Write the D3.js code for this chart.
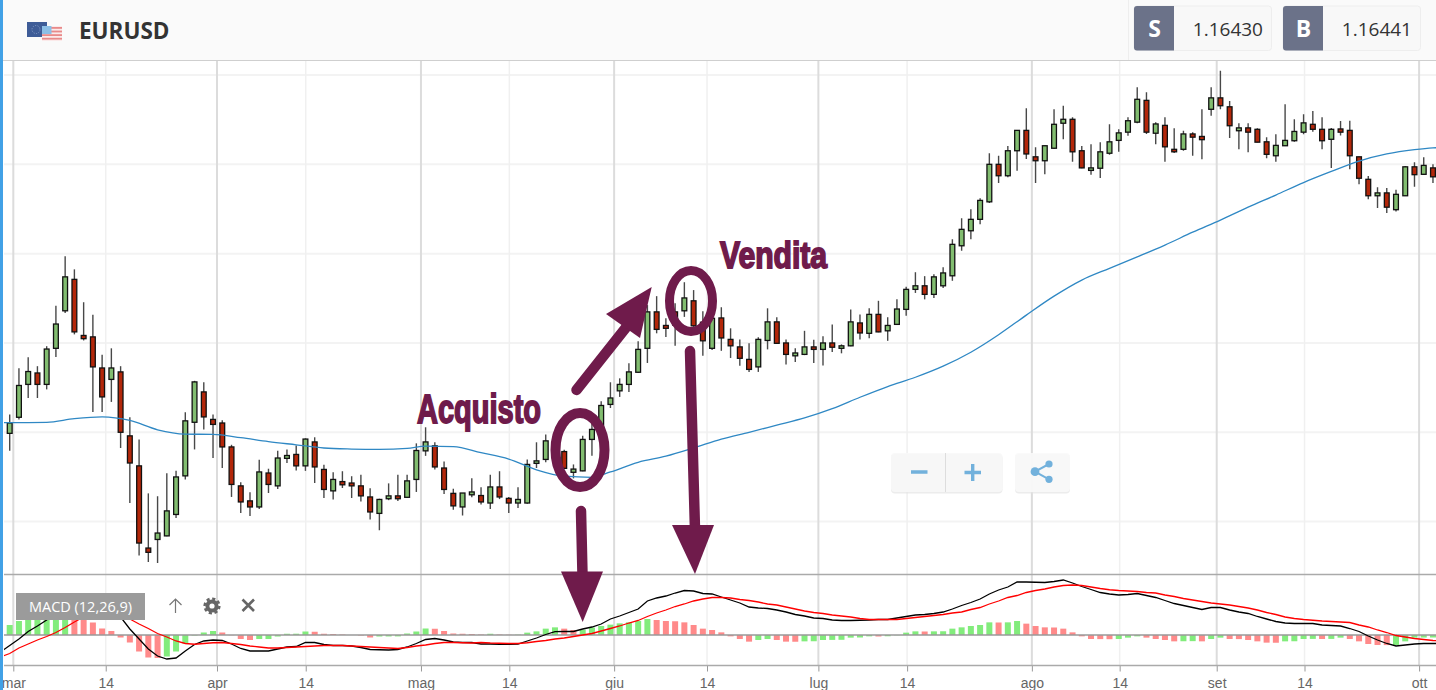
<!DOCTYPE html>
<html>
<head>
<meta charset="utf-8">
<script src="https://cdn.jsdelivr.net/npm/d3@7"></script>
<style>
  html, body { margin: 0; padding: 0; background: #fff; overflow: hidden; }
  svg { display: block; font-family: "Liberation Sans", Arial, sans-serif; }
</style>
</head>
<body>
<svg id="chart" width="1436" height="690"></svg>
<script>
// EURUSD daily, prices in 1/10000 (the price axis is hidden)
const opens = [10997,11042,11134,11166,11134,11235,11340,11428,11271,11267,11180,11148,11169,10990,10906,10676,10700,10710,10770,10878,11028,11113,11036,11026,10959,10850,10808,10791,10886,10850,10927,10938,10906,10973,10896,10836,10862,10858,10850,10819,10773,10814,10822,10818,10868,10948,10962,10900,10829,10791,10825,10823,10802,10847,10815,10802,10802,10913,10924,10936,10946,10888,10892,10980,11012,11078,11116,11134,11168,11235,11337,11299,11337,11340,11368,11308,11235,11320,11260,11239,11204,11183,11257,11309,11250,11214,11218,11239,11232,11250,11235,11242,11306,11277,11330,11284,11302,11344,11400,11410,11386,11410,11438,11522,11564,11596,11645,11750,11718,11788,11845,11771,11760,11795,11865,11876,11788,11733,11739,11781,11817,11840,11868,11929,11837,11859,11792,11792,11835,11828,11904,11936,11911,11844,11852,11848,11813,11774,11802,11816,11840,11862,11848,11820,11849,11845,11771,11708,11662,11670,11623,11662,11743,11722,11740];
const highs = [11050,11179,11210,11185,11241,11354,11493,11456,11364,11329,11217,11235,11185,11042,10980,10829,10821,10885,10892,11056,11144,11140,11050,11034,10965,10860,10832,10923,10898,10948,10952,10963,10983,10986,10909,10888,10891,10877,10881,10843,10814,10857,10881,10881,10969,11014,10972,10918,10842,10830,10871,10846,10881,10891,10819,10846,10924,10972,10994,10978,10951,10910,10990,11026,11087,11140,11151,11193,11255,11356,11381,11319,11361,11420,11398,11339,11337,11350,11291,11260,11249,11266,11347,11322,11260,11235,11284,11259,11269,11302,11246,11344,11330,11347,11368,11322,11372,11407,11448,11437,11442,11462,11540,11599,11624,11655,11781,11774,11801,11846,11907,11798,11802,11904,11914,11882,11801,11806,11812,11862,11848,11882,11966,11952,11868,11882,11851,11844,11840,11904,11966,12012,11927,11865,11865,11851,11826,11834,11918,11876,11890,11899,11882,11852,11871,11872,11772,11717,11686,11684,11679,11745,11756,11770,11750];
const lows = [10948,11036,11096,11096,11120,11211,11334,11274,11257,11057,11057,11085,10956,10802,10655,10637,10634,10709,10760,10868,10952,11008,10928,10900,10819,10774,10766,10785,10830,10841,10914,10893,10892,10858,10816,10812,10844,10816,10806,10756,10726,10810,10808,10816,10833,10934,10896,10827,10783,10767,10818,10798,10785,10813,10774,10788,10800,10900,10916,10928,10898,10871,10891,10934,11006,11068,11099,11113,11166,11194,11277,11267,11242,11323,11295,11214,11230,11228,11208,11186,11169,11169,11232,11248,11190,11197,11216,11194,11187,11225,11221,11241,11260,11263,11280,11256,11301,11326,11390,11372,11376,11404,11424,11508,11540,11582,11642,11698,11714,11732,11765,11698,11722,11793,11820,11757,11739,11721,11712,11777,11785,11830,11865,11835,11806,11757,11782,11788,11774,11764,11886,11904,11824,11792,11784,11812,11767,11757,11801,11813,11834,11841,11792,11740,11831,11736,11694,11652,11628,11614,11618,11661,11687,11720,11698];
const closes = [11026,11131,11170,11134,11233,11303,11435,11281,11262,11183,11099,11180,11000,10914,10690,10664,10718,10780,10875,11032,11141,11043,11022,10959,10854,10805,10791,10889,10854,10928,10935,10906,10981,10903,10840,10868,10853,10850,10822,10777,10812,10822,10814,10864,10949,10973,10903,10840,10794,10830,10833,10805,10847,10819,10802,10812,10910,10920,10976,10964,10899,10897,10980,11008,11075,11096,11134,11169,11232,11337,11288,11291,11300,11376,11298,11256,11319,11264,11242,11207,11176,11260,11309,11249,11218,11222,11239,11232,11250,11238,11242,11309,11278,11330,11281,11299,11345,11400,11410,11386,11435,11446,11526,11568,11596,11649,11750,11718,11788,11845,11779,11760,11802,11862,11876,11785,11740,11740,11785,11813,11838,11872,11932,11840,11863,11799,11785,11835,11826,11819,11936,11914,11858,11852,11840,11812,11778,11803,11817,11842,11866,11848,11816,11848,11840,11774,11711,11662,11670,11630,11666,11743,11721,11747,11715];

// moving average, read at these bars (-1 and 155 are cut off by the plot edges)
const maBars = [-1,0,4,7,10,13,16,19,22,25,28,31,34,37,40,43,45,48,51,54,57,60,63,65,68,71,74,77,80,83,86,89,92,95,98,101,104,107,110,113,116,119,122,125,128,131,134,137,140,143,146,149,152,154,155];
const maValues = [11027,11027,11028,11038,11043,11033,11007,10995,10994,10985,10974,10965,10956,10953,10952,10955,10961,10960,10943,10925,10895,10877,10874,10889,10916,10933,10956,10981,11000,11020,11040,11066,11098,11128,11154,11185,11224,11273,11328,11381,11426,11459,11491,11524,11560,11594,11630,11664,11699,11730,11759,11779,11791,11796,11797];

// MACD panel, in pips. The two lines start one bar before the first candle and end one after the last
const macdLine = [-34,-21,-8,7,18,30,45,58,64,66,62,56,44,36,12,-8,-28,-42,-48,-46,-32,-19,-12,-10,-11,-18,-27,-32,-32,-32,-28,-24,-23,-15,-15,-19,-21,-21,-22,-25,-29,-29.5,-30,-29,-24,-17,-9,-7,-10,-14,-15,-15,-18,-18,-18.5,-18.5,-18,-12,-6,1,6.7,7,7,12,16,22,32,38,45,52,68,74,78,84,89,88,83,82,76,70,64,56,54,53,50,46,41,38,34,33,30,29,29,29.5,30,31,31,34,37,40,41,43,46,52,59,65,72,82,90,96,106,106,105.5,105,107,110,104,97,91,85,82,80,81,83,79,75,69,63,59,55,51,55,55,50,46,43,37,32,27,24,23,23,23,20,19,18,13,7,-2,-10,-17,-22,-20,-18,-17,-17,-17];
const signalLine = [-44,-37,-26,-18,-10,-3,5,15,26,36,40,42,41,38,32,22,13,3,-4,-12,-17,-18.5,-17,-15.5,-15,-17,-19,-22,-24,-26,-26,-25,-24,-23,-22,-21,-21,-21,-22,-23,-24,-25,-26,-27,-25,-22,-20,-17,-15,-15,-15.5,-16,-15,-16,-16.5,-17,-17,-15.5,-13,-11,-8,-6,-3,0,3,8,13,18,24,29,37,44,50,57,62,68,72,75,75,74,71,69,66,62,60,56,52,48,45,43,40,38,36,33,31,31,31,31,33,35,37,39,41,44,46,51,55,62,68,75,79,85,89,92,96,99,100,99,96,93,90.5,89,88,87,85,84,80,77,73,70,67,64,62,60,57,54,50,45,41,36,33,31,29.5,28,27,26,25,20,16,10,5,-1,-4,-7,-9,-11,-12];
const histogram = [20,28,31,34,36,37,38,34,30,25,13,8,-5,-15,-33,-45,-46,-43,-33,-17,-1,5,8,5,-0.5,-8,-10,-8,-8,-3,2.5,2.6,7,6.5,2.5,2,1,0,-1,-5,-3,-2.9,-2.8,3,7,13,12.5,8,3,2.5,2,1,2.5,1,0.5,0.6,4.7,7.3,12.7,15.3,12.7,10,10.5,15,18,20.7,23.3,25.3,28,32,30,28,27.5,25.3,20,12.7,10,5.3,-2.7,-8,-13.3,-10,-8,-10,-13.3,-13.5,-12.7,-12.5,-10,-9.8,-9.6,-5.3,-5,-2.7,-3,-2.5,-0.5,4.7,7.3,7,7.3,7.5,12.7,15.3,18,20,25.3,25,25.3,28,22.7,18,15.3,15,12.7,5.3,-2.7,-8,-8.2,-8.4,-8,-5.3,-2.7,-5.3,-8,-10,-12.7,-12.5,-12.3,-12.7,-8,-5.3,-8,-8.2,-10,-12.7,-15.3,-15.5,-12.7,-12.5,-8,-7.8,-8,-7.8,-5.3,-8,-12.7,-18,-20,-20.2,-20,-12.7,-5.3,-5.1,-5];

// bottom axis: where the dates fall, counted in trading days, and their labels
const tickDays = [0.89,10.89,22.93,32.53,45.0,54.56,65.9,75.95,88.0,97.6,111.1,120.6,131.1,140.6,153.0];
const tickLabels = ["mar","14","apr","14","mag","14","giu","14","lug","14","ago","14","set","14","ott"];
const priceGrid = [12000,11750,11500,11250,11000,10750];

const W = 1436, H = 690;
const plotLeft = 4;
const panelBottom = 665.5, macdTop = 574.5;

const svg = d3.select("#chart");

svg.append("clipPath").attr("id", "plotClip").append("rect")
    .attr("x", plotLeft).attr("y", 61).attr("width", W - plotLeft).attr("height", panelBottom - 61);

const x = d3.scaleLinear().domain([0, 155]).range([5.08, 5.08 + 155 * 9.242]);
const y = d3.scaleLinear().domain([12000, 10750]).range([75, 521.6]);
const m = d3.scaleLinear().domain([0, 100]).range([635, 585]);
const mid = i => x(i + 0.5);

const plot = svg.append("g").attr("clip-path", "url(#plotClip)");

// grid
plot.selectAll(".hgrid").data(priceGrid).enter().append("line")
    .attr("x1", plotLeft).attr("x2", W)
    .attr("y1", d => y(d)).attr("y2", d => y(d))
    .attr("stroke", "#f3f3f3").attr("stroke-width", 2);

plot.selectAll(".vgrid").data(tickDays).enter().append("line")
    .attr("x1", d => x(d)).attr("x2", d => x(d))
    .attr("y1", 61).attr("y2", panelBottom)
    .attr("stroke", (d, i) => i % 2 ? "#f0f0f0" : "#dcdcdc")
    .attr("stroke-width", (d, i) => i % 2 ? 1.5 : 2);

// candles
const candles = plot.append("g").selectAll("g").data(d3.range(opens.length)).enter().append("g");
candles.append("line")
    .attr("x1", mid).attr("x2", mid)
    .attr("y1", i => y(highs[i])).attr("y2", i => y(lows[i]))
    .attr("stroke", "#484848").attr("stroke-width", 1.4);
candles.append("rect")
    .attr("x", i => mid(i) - 2.4).attr("width", 4.8)
    .attr("y", i => y(Math.max(opens[i], closes[i])))
    .attr("height", i => Math.abs(y(opens[i]) - y(closes[i])))
    .attr("fill", i => closes[i] >= opens[i] ? "#82bd70" : "#b3270a")
    .attr("stroke", "#111").attr("stroke-width", 1.3);

plot.append("path")
    .attr("d", d3.line().x(i => mid(maBars[i])).y(i => y(maValues[i])).curve(d3.curveMonotoneX)(d3.range(maBars.length)))
    .attr("fill", "none").attr("stroke", "#2f88c4").attr("stroke-width", 1.3);

// MACD panel
svg.append("line").attr("x1", plotLeft).attr("x2", W).attr("y1", macdTop).attr("y2", macdTop)
    .attr("stroke", "#aaa").attr("stroke-width", 1.5);

plot.append("g").selectAll("rect").data(histogram).enter().append("rect")
    .attr("x", (d, i) => mid(i) - 3).attr("width", 6)
    .attr("y", d => Math.min(m(d), m(0)))
    .attr("height", d => Math.abs(m(d) - m(0)))
    .attr("fill", (d, i) => i === 0 || d >= histogram[i - 1] ? "#82ec7c" : "#ff8a8a");

plot.append("line").attr("x1", plotLeft).attr("x2", W).attr("y1", m(0)).attr("y2", m(0))
    .attr("stroke", "#999").attr("stroke-width", 1.4);

const macdPath = d3.line().x((d, i) => mid(i - 1)).y(d => m(d));
plot.append("path").attr("d", macdPath(macdLine)).attr("fill", "none").attr("stroke", "#000").attr("stroke-width", 1.3);
plot.append("path").attr("d", macdPath(signalLine)).attr("fill", "none").attr("stroke", "#f00").attr("stroke-width", 1.3);

// date axis
const axis = svg.append("g")
    .attr("transform", `translate(0,${panelBottom})`)
    .call(d3.axisBottom(x).tickValues(tickDays).tickSize(6).tickPadding(7).tickFormat((d, i) => tickLabels[i]));
axis.select(".domain").remove();
axis.selectAll(".tick line").attr("stroke", "#999").attr("stroke-width", 1);
axis.selectAll(".tick text").attr("fill", "#666").style("font-size", "14px").style("font-family", '"Liberation Sans", Arial, sans-serif');
svg.append("line").attr("x1", plotLeft).attr("x2", W).attr("y1", panelBottom).attr("y2", panelBottom)
    .attr("stroke", "#aaa").attr("stroke-width", 1.5);

// MACD label and its icons
const ctl = svg.append("g");
ctl.append("rect").attr("x", 16).attr("y", 593).attr("width", 129).attr("height", 27).attr("fill", "#9b9b9b");
ctl.append("text").attr("x", 80.5).attr("y", 611.5).attr("text-anchor", "middle")
    .attr("fill", "#fff").style("font-family", '"Open Sans"').style("font-size", "14.5px").text("MACD (12,26,9)");
ctl.append("path").attr("d", "M175.5 613V599M169.5 605L175.5 599L181.5 605")
    .attr("fill", "none").attr("stroke", "#777").attr("stroke-width", 1.2);
ctl.append("circle").attr("cx", 212).attr("cy", 606).attr("r", 4.6)
    .attr("fill", "none").attr("stroke", "#666").attr("stroke-width", 4);
ctl.append("circle").attr("cx", 212).attr("cy", 606).attr("r", 7.4)
    .attr("fill", "none").attr("stroke", "#666").attr("stroke-width", 2.4).attr("stroke-dasharray", "3.2 2.6");
ctl.append("path").attr("d", "M242.5 599.5L254 611M254 599.5L242.5 611")
    .attr("fill", "none").attr("stroke", "#666").attr("stroke-width", 2.6);

// zoom and share buttons
const btn = svg.append("g");
btn.append("rect").attr("x", 891).attr("y", 454).attr("width", 111.5).attr("height", 39.5).attr("rx", 4).attr("fill", "#e4e4e4").attr("opacity", 0.7);
btn.append("rect").attr("x", 891).attr("y", 453).attr("width", 111.5).attr("height", 39).attr("rx", 4).attr("fill", "#f8f8f8").attr("fill-opacity", 0.88);
btn.append("line").attr("x1", 945.5).attr("x2", 945.5).attr("y1", 453).attr("y2", 492).attr("stroke", "#ddd");
btn.append("rect").attr("x", 1015).attr("y", 454).attr("width", 55).attr("height", 39.5).attr("rx", 4).attr("fill", "#e4e4e4").attr("opacity", 0.7);
btn.append("rect").attr("x", 1015).attr("y", 453).attr("width", 55).attr("height", 39).attr("rx", 4).attr("fill", "#f9f9f9").attr("fill-opacity", 0.88);
btn.append("path").attr("d", "M911 472H927.5M964.5 472.5H981M972.7 464V481")
    .attr("stroke", "#72b1dc").attr("stroke-width", 3.4).attr("fill", "none");
btn.append("path").attr("d", "M1035 471.7L1049 464M1035 471.7L1049 479.3")
    .attr("stroke", "#72b1dc").attr("stroke-width", 2).attr("fill", "none");
btn.selectAll("circle").data([[1035, 471.7, 4.4], [1049, 464, 3.6], [1049, 479.3, 3.6]]).enter().append("circle")
    .attr("cx", d => d[0]).attr("cy", d => d[1]).attr("r", d => d[2]).attr("fill", "#72b1dc");

// hand drawn notes on top of the chart
const noteColor = "#6f1b4b";
const notes = svg.append("g");
notes.append("ellipse").attr("cx", 580).attr("cy", 450).attr("rx", 24.5).attr("ry", 37)
    .attr("fill", "none").attr("stroke", noteColor).attr("stroke-width", 10);
notes.append("ellipse").attr("cx", 691).attr("cy", 301).attr("rx", 21.5).attr("ry", 30.5)
    .attr("fill", "none").attr("stroke", noteColor).attr("stroke-width", 9);
notes.selectAll("path.shaft").data(["M576.5 390L628 325", "M581 511L582.5 575", "M690 351L695 530"]).enter().append("path")
    .attr("d", d => d).attr("stroke", noteColor).attr("stroke-width", 10.5).attr("stroke-linecap", "round").attr("fill", "none");
notes.selectAll("path.head").data(["M651.7 287L606 314L640 338Z", "M561 571.5H603L582.7 622Z", "M672 525H714L695 574Z"]).enter().append("path")
    .attr("d", d => d).attr("fill", noteColor);
const noteText = [["Acquisto", 417, 423, 124, 40], ["Vendita", 720, 267.5, 107, 37]];
notes.selectAll("text").data(noteText).enter().append("text")
    .attr("x", d => d[1]).attr("y", d => d[2])
    .attr("textLength", d => d[3]).attr("lengthAdjust", "spacingAndGlyphs")
    .attr("fill", noteColor).attr("stroke", noteColor).attr("stroke-width", 1.8)
    .style("font-family", '"Liberation Sans Narrow", "Liberation Sans", sans-serif')
    .style("font-weight", 700).style("font-size", d => d[4] + "px").text(d => d[0]);

// header
const head = svg.append("g");
head.append("rect").attr("width", W).attr("height", 60).attr("fill", "#fafafa");
head.append("line").attr("x1", 0).attr("x2", W).attr("y1", 60.5).attr("y2", 60.5).attr("stroke", "#cfcfcf").attr("stroke-width", 1.2);
head.append("line").attr("x1", 1128.5).attr("x2", 1128.5).attr("y1", 0).attr("y2", 60).attr("stroke", "#eee");

// little EU and US flags
head.append("rect").attr("x", 27).attr("y", 22).attr("width", 20).attr("height", 15).attr("fill", "#3e5c97");
head.append("circle").attr("cx", 36).attr("cy", 29.5).attr("r", 4).attr("fill", "none").attr("stroke", "#8aa0c8").attr("stroke-dasharray", "1 1.5");
head.append("rect").attr("x", 42).attr("y", 26).attr("width", 20).attr("height", 15).attr("fill", "#fbeaea");
head.selectAll(".stripe").data(d3.range(4)).enter().append("rect")
    .attr("x", 42).attr("width", 20).attr("y", i => 27 + i * 3.6).attr("height", 1.8).attr("fill", "#e88a8a");
head.append("rect").attr("x", 42).attr("y", 26).attr("width", 9.5).attr("height", 8).attr("fill", "#8cbfe6");

head.append("text").attr("x", 79).attr("y", 38.5).attr("fill", "#333")
    .style("font-family", '"Open Sans"').style("font-weight", 700).style("font-size", "22.5px").text("EURUSD");

const quotes = [["S", "1.16430", 1134, 1271.5], ["B", "1.16441", 1283, 1420.5]];
quotes.forEach(q => {
    head.append("rect").attr("x", q[2]).attr("y", 6).attr("width", q[3] - q[2]).attr("height", 44.5).attr("rx", 3)
        .attr("fill", "#f8f8f8").attr("stroke", "#eee");
    head.append("path").attr("d", `M${q[2] + 3} 6H${q[2] + 40}V50.5H${q[2] + 3}Q${q[2]} 50.5 ${q[2]} 47.5V9Q${q[2]} 6 ${q[2] + 3} 6Z`).attr("fill", "#6b7289");
    head.append("text").attr("x", q[2] + 20.5).attr("y", 37).attr("text-anchor", "middle").attr("fill", "#fff")
        .style("font-family", '"Open Sans"').style("font-weight", 700).style("font-size", "23px").text(q[0]);
    head.append("text").attr("x", q[3] - 8.5).attr("y", 36).attr("text-anchor", "end").attr("fill", "#333")
        .style("font-family", '"Open Sans"').style("font-size", "19px").text(q[1]);
});

// blue strip on the left edge
svg.append("rect").attr("width", 3).attr("height", H).attr("fill", "#41a1e6");
</script>
</body>
</html>
